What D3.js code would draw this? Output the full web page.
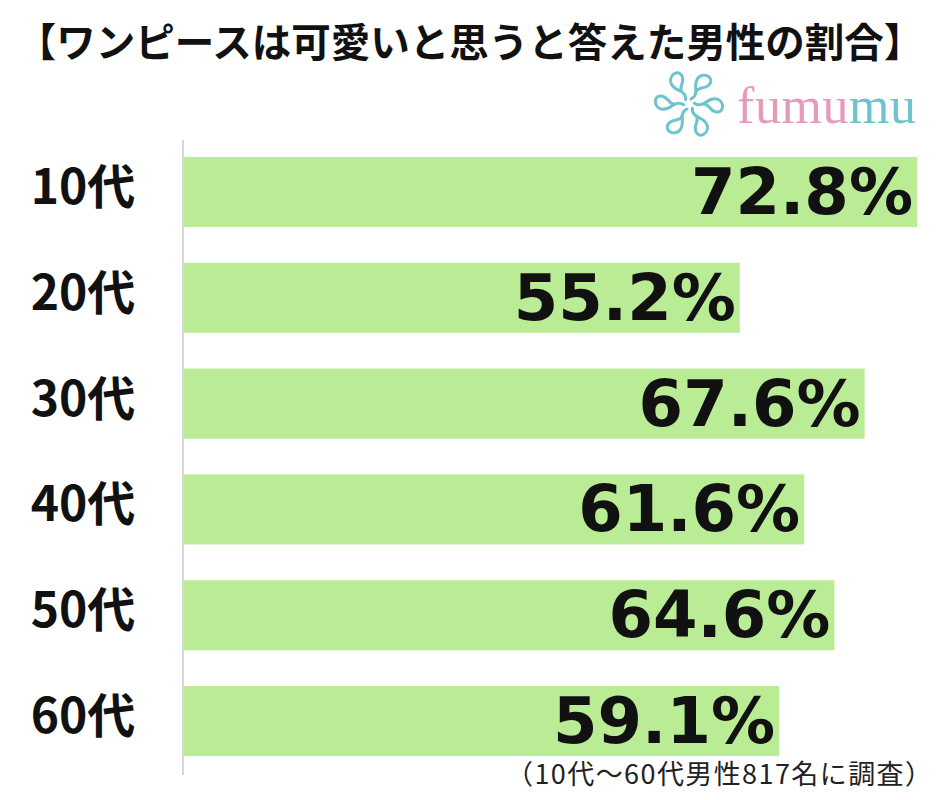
<!DOCTYPE html>
<html>
<head>
<meta charset="utf-8">
<script src="https://cdn.jsdelivr.net/npm/d3@7"></script>
<style>
  body { margin: 0; background: #fff; }
  svg { display: block; }
</style>
</head>
<body>
<svg width="944" height="800"></svg>
<script>
const titleText = "【ワンピースは可愛いと思うと答えた男性の割合】";
const noteText = "（10代～60代男性817名に調査）";
const ages = ["10代", "20代", "30代", "40代", "50代", "60代"];
const rates = [72.8, 55.2, 67.6, 61.6, 64.6, 59.1];

const data = ages.map((a, i) => ({age: a, value: rates[i]}));

const svg = d3.select("svg");
const jp = "'Noto Sans CJK JP', 'Noto Sans', sans-serif";

const x = d3.scaleLinear()
  .domain([0, d3.max(rates)])
  .range([184, 917]);

const y = d3.scaleBand()
  .domain(ages)
  .range([140, 773])
  .paddingInner(0.338)
  .paddingOuter(0.16);

// title
svg.append("text")
  .attr("x", 470)
  .attr("y", 57)
  .attr("text-anchor", "middle")
  .attr("font-family", jp)
  .attr("font-weight", 700)
  .attr("font-size", 39.5)
  .attr("fill", "#111")
  .text(titleText);

// logo
const logo = svg.append("g").attr("transform", "translate(689,104)");
d3.range(6).forEach(i => {
  logo.append("path")
    .attr("d", "M2,-5 C12,-10 2,-20 10,-27 C16,-32 26,-26 20,-19 C15,-14 9,-18 7,-12")
    .attr("transform", `rotate(${i * 60})`)
    .attr("fill", "none")
    .attr("stroke", "#6cc4cc")
    .attr("stroke-width", 3)
    .attr("stroke-linecap", "round");
});
const brand = svg.append("text")
  .attr("x", 737)
  .attr("y", 123)
  .attr("font-family", "'Liberation Serif', 'DejaVu Serif', serif")
  .attr("font-size", 52)
  .attr("textLength", 179)
  .attr("lengthAdjust", "spacing");
brand.append("tspan").attr("fill", "#e79bbb").text("fumu");
brand.append("tspan").attr("fill", "#6cc4cc").text("mu");

// bars
svg.append("g")
  .selectAll("rect")
  .data(data)
  .join("rect")
  .attr("x", x(0))
  .attr("y", d => y(d.age))
  .attr("width", d => x(d.value) - x(0))
  .attr("height", y.bandwidth())
  .attr("fill", "#b9ec95");

// axis line
svg.append("line")
  .attr("x1", 183).attr("x2", 183)
  .attr("y1", 140).attr("y2", 775)
  .attr("stroke", "#c8c8c8")
  .attr("stroke-width", 1.5);

// category labels
svg.append("g")
  .selectAll("text")
  .data(data)
  .join("text")
  .attr("x", 83)
  .attr("y", d => y(d.age) + y.bandwidth() / 2 + 12)
  .attr("text-anchor", "middle")
  .attr("font-family", jp)
  .attr("font-weight", 700)
  .attr("font-size", 48)
  .attr("fill", "#111")
  .text(d => d.age);

// value labels
svg.append("g")
  .selectAll("text")
  .data(data)
  .join("text")
  .attr("x", d => x(d.value) - 4)
  .attr("y", d => y(d.age) + y.bandwidth() / 2 + 22)
  .attr("text-anchor", "end")
  .attr("font-family", "'DejaVu Sans', sans-serif")
  .attr("font-weight", 700)
  .attr("font-size", 64)
  .attr("fill", "#111")
  .text(d => d.value.toFixed(1) + "%");

// footnote
svg.append("text")
  .attr("x", 506)
  .attr("y", 784)
  .attr("font-family", jp)
  .attr("font-size", 27)
  .attr("textLength", 426)
  .attr("lengthAdjust", "spacing")
  .attr("fill", "#222")
  .text(noteText);
</script>
</body>
</html>
